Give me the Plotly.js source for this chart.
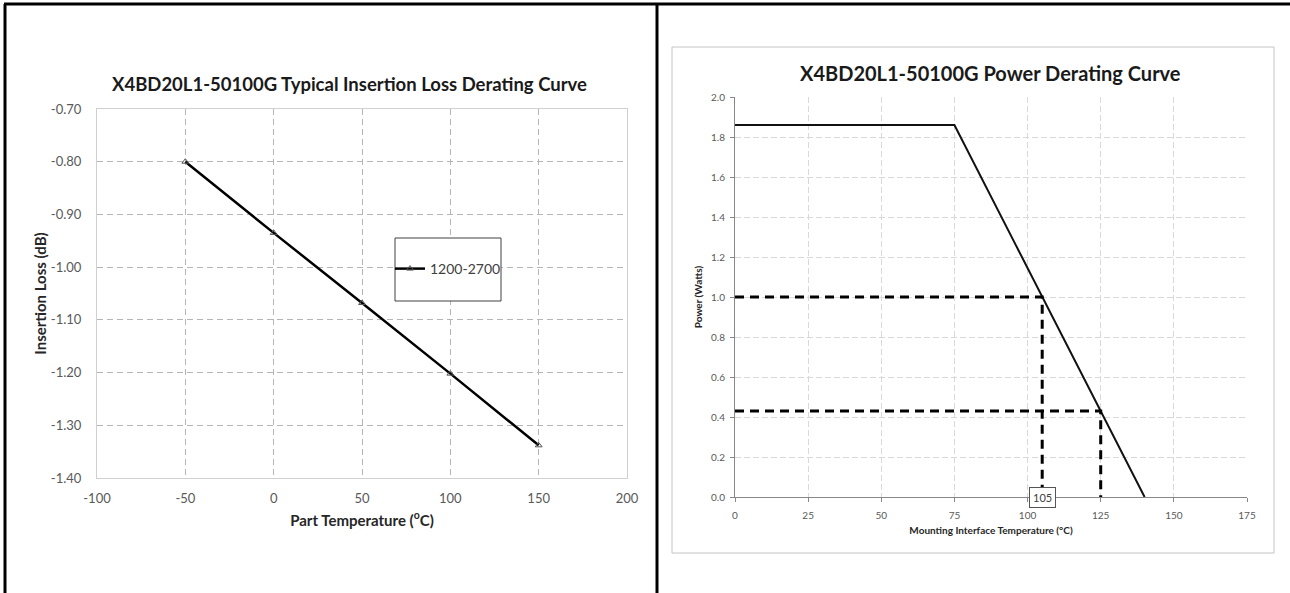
<!DOCTYPE html>
<html>
<head>
<meta charset="utf-8">
<script src="https://cdn.plot.ly/plotly-3.0.1.min.js"></script>
<style>html,body{margin:0;padding:0;background:#fff;}#chart{width:1290px;height:593px;}</style>
</head>
<body>
<div id="chart"></div>
<script>
// ---- Left chart data: Insertion loss vs part temperature ----
const lossTemps = [-50, 0, 50, 100, 150];
const lossValues = [-0.80, -0.935, -1.068, -1.202, -1.338];
const lossSeriesName = "1200-2700";
const lossTickVals = [-1.40, -1.30, -1.20, -1.10, -1.00, -0.90, -0.80, -0.70];
const lossTickText = ["-1.40", "-1.30", "-1.20", "-1.10", "-1.00", "-0.90", "-0.80", "-0.70"];
const tempTickVals = [-100, -50, 0, 50, 100, 150, 200];
const tempTickText = ["-100", "-50", "0", "50", "100", "150", "200"];

// ---- Right chart data: Power derating ----
const powerTemps = [0, 75, 140];
const powerWatts = [1.86, 1.86, 0];
const ref1Temps = [0, 105, 105];
const ref1Watts = [1.0, 1.0, 0];
const ref2Temps = [0, 125, 125];
const ref2Watts = [0.43, 0.43, 0];
const powerTickVals = [0, 0.2, 0.4, 0.6, 0.8, 1.0, 1.2, 1.4, 1.6, 1.8, 2.0];
const powerTickText = ["0.0", "0.2", "0.4", "0.6", "0.8", "1.0", "1.2", "1.4", "1.6", "1.8", "2.0"];
const mountTickVals = [0, 25, 50, 75, 100, 125, 150, 175];
const markLabel = "105";

const W = 1290, H = 593;
const px = v => v / W;
const py = v => 1 - v / H;
const FONT = "Lato, 'Open Sans', sans-serif";

const traces = [
  {
    x: lossTemps, y: lossValues, name: lossSeriesName, type: "scatter", mode: "lines+markers",
    xaxis: "x", yaxis: "y",
    line: {color: "#000000", width: 2.5},
    marker: {symbol: "triangle-up-open", size: 6, color: "#555555", line: {width: 1, color: "#555555"}},
    showlegend: true
  },
  {
    x: powerTemps, y: powerWatts, name: "Power", type: "scatter", mode: "lines",
    xaxis: "x2", yaxis: "y2", line: {color: "#111111", width: 2}, showlegend: false
  },
  {
    x: ref1Temps, y: ref1Watts, name: "ref 105", type: "scatter", mode: "lines",
    xaxis: "x2", yaxis: "y2", line: {color: "#000000", width: 3, dash: "9px,6px"}, showlegend: false
  },
  {
    x: ref2Temps, y: ref2Watts, name: "ref 125", type: "scatter", mode: "lines",
    xaxis: "x2", yaxis: "y2", line: {color: "#000000", width: 3, dash: "9px,6px"}, showlegend: false
  }
];

const layout = {
  width: W, height: H,
  margin: {l: 0, r: 0, t: 0, b: 0},
  paper_bgcolor: "#ffffff", plot_bgcolor: "#ffffff",
  font: {family: FONT, color: "#595959"},
  showlegend: true,
  legend: {
    x: px(448), y: py(269), xanchor: "center", yanchor: "middle",
    bgcolor: "rgba(0,0,0,0)", borderwidth: 0,
    font: {family: FONT, size: 14, color: "#404040"},
    itemwidth: 30
  },
  xaxis: {
    domain: [px(97), px(627)], anchor: "y",
    range: [-100, 200], tickvals: tempTickVals, ticktext: tempTickText, ticks: "",
    ticklabelstandoff: 8,
    showgrid: true, gridcolor: "#b5b5b5", griddash: "6px,4px", gridwidth: 1,
    showline: true, linecolor: "#d0d0d0", linewidth: 1, mirror: true,
    zeroline: false,
    tickfont: {family: FONT, size: 13, color: "#595959"},
    title: {text: "Part Temperature (<sup>o</sup>C)", font: {family: FONT, size: 15, color: "#262626", weight: "bold"}, standoff: 10},
    automargin: false
  },
  yaxis: {
    domain: [py(478), py(109)], anchor: "x",
    range: [-1.40, -0.70], tickvals: lossTickVals, ticktext: lossTickText, ticks: "",
    ticklabelstandoff: 12,
    showgrid: true, gridcolor: "#b5b5b5", griddash: "6px,4px", gridwidth: 1,
    showline: true, linecolor: "#d0d0d0", linewidth: 1, mirror: true,
    zeroline: false,
    tickfont: {family: FONT, size: 13, color: "#595959"},
    title: {text: "Insertion Loss (dB)", font: {family: FONT, size: 15, color: "#262626", weight: "bold"}, standoff: 0},
    automargin: false
  },
  xaxis2: {
    domain: [px(735), px(1247)], anchor: "y2",
    range: [0, 175], tickvals: mountTickVals, ticks: "outside", ticklen: 4, tickcolor: "#888888",
    ticklabelstandoff: 5,
    showgrid: true, gridcolor: "#d9d9d9", griddash: "6px,3px", gridwidth: 1,
    showline: true, linecolor: "#888888", linewidth: 1,
    zeroline: false,
    tickfont: {family: FONT, size: 10, color: "#595959"},
    title: {text: "Mounting Interface Temperature (°C)", font: {family: FONT, size: 10, color: "#262626", weight: "bold"}, standoff: 6},
    automargin: false
  },
  yaxis2: {
    domain: [py(497), py(97)], anchor: "x2",
    range: [0, 2.0], tickvals: powerTickVals, ticktext: powerTickText, ticks: "outside", ticklen: 4, tickcolor: "#888888",
    ticklabelstandoff: 3,
    showgrid: true, gridcolor: "#d9d9d9", griddash: "6px,3px", gridwidth: 1,
    showline: true, linecolor: "#888888", linewidth: 1,
    zeroline: false,
    tickfont: {family: FONT, size: 10, color: "#595959"},
    title: {text: "Power (Watts)", font: {family: FONT, size: 10, color: "#262626", weight: "bold"}, standoff: 6},
    automargin: false
  },
  annotations: [
    {
      xref: "paper", yref: "paper", x: px(349), y: py(84), xanchor: "center", yanchor: "middle",
      text: "<b>X4BD20L1-50100G Typical Insertion Loss Derating Curve</b>", showarrow: false,
      font: {family: FONT, size: 18.5, color: "#1a1a1a"}
    },
    {
      xref: "paper", yref: "paper", x: px(990), y: py(73), xanchor: "center", yanchor: "middle",
      text: "<b>X4BD20L1-50100G Power Derating Curve</b>", showarrow: false,
      font: {family: FONT, size: 20, color: "#1a1a1a"}
    },
    {
      xref: "x2", yref: "y2", x: 105, y: 0, xanchor: "center", yanchor: "middle",
      text: markLabel, showarrow: false, bgcolor: "#ffffff", bordercolor: "#555555", borderwidth: 1, borderpad: 3,
      font: {family: FONT, size: 11, color: "#404040"}
    }
  ],
  shapes: [
    {type: "line", xref: "paper", yref: "paper", x0: px(4), x1: 1, y0: py(4), y1: py(4), line: {color: "#000", width: 3}},
    {type: "line", xref: "paper", yref: "paper", x0: px(5), x1: px(5), y0: py(4), y1: 0, line: {color: "#000", width: 3}},
    {type: "line", xref: "paper", yref: "paper", x0: px(657), x1: px(657), y0: py(4), y1: 0, line: {color: "#000", width: 3}},
    {type: "rect", xref: "paper", yref: "paper", x0: px(672), x1: px(1274), y0: py(553), y1: py(47), line: {color: "#c4c4c4", width: 1}, fillcolor: "rgba(0,0,0,0)", layer: "below"},
    {type: "rect", xref: "paper", yref: "paper", x0: px(395), x1: px(501), y0: py(301), y1: py(238), line: {color: "#404040", width: 1}, fillcolor: "#ffffff", layer: "above"}
  ]
};

Plotly.newPlot("chart", traces, layout, {displayModeBar: false, staticPlot: true});
</script>
</body>
</html>
